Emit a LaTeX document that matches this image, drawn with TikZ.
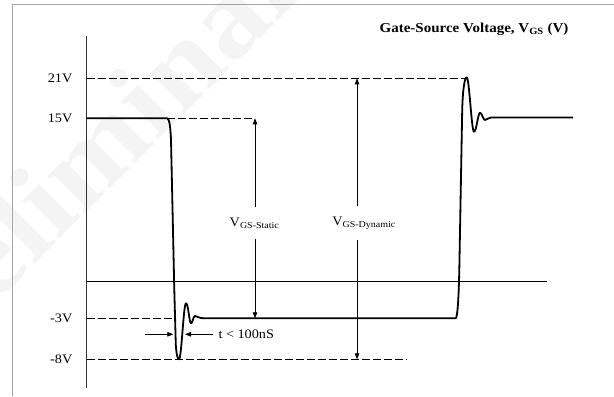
\documentclass[tikz,border=0pt]{standalone}
\usepackage{fontspec}
\setmainfont{Liberation Serif}[FakeStretch=1.1]
\usetikzlibrary{arrows.meta}

\tikzset{
  sig/.style={line width=1.8bp, line join=round},
  lvldash/.style={line width=1.3bp, dash pattern=on 8bp off 3bp},
  dim/.style={line width=0.8bp, -{Triangle[length=6bp,width=4.5bp]}},
  lvl/.style={anchor=east, inner sep=0pt, font=\fontsize{13}{15}\selectfont},
  lab/.style={inner xsep=0pt, inner ysep=11bp, font=\fontsize{13}{15}\selectfont},
}

\begin{document}
\begin{tikzpicture}[x=1bp, y=-1bp]
\useasboundingbox (0,0) rectangle (614,396);

% Watermark
\node[rotate=45, text=gray!9, font=\bfseries\fontsize{115}{115}\selectfont] (wm) at (111,149) {Preliminary};

% Frame
\draw[gray!70, line width=1bp] (12.3,396) -- (12.3,4) -- (614,4);

% Axes
\draw[line width=0.8bp, black!80] (86.7,36) -- (86.7,388);
\draw[line width=1bp] (86.7,281) -- (547,281);

% Levels
\foreach \y/\t/\n in {78.3/21V/a, 118.3/15V/b, 318.3/-3V/c, 359.3/-8V/d}
  \node[lvl] (lv\n) at (72.5,\y) {\t};
\draw[lvldash] (86.7,78.3) -- (466.7,78.3);
\draw[lvldash] (167.3,118.3) -- (255,118.3);
\draw[lvldash] (86.7,318.3) -- (174,318.3);
\draw[lvldash] (86.7,359.3) -- (407,359.3);

% Gate signal
\draw[sig] (86.7,118.3) -- (167.3,118.3) .. controls (169.5,119) and (170.5,128) .. (171,140)
  -- (174.3,290) -- (175.8,345) .. controls (176.6,356) and (177.8,359.3) .. (179,359.3)
  .. controls (181.5,359.3) and (183.5,303.3) .. (186,303.3)
  .. controls (188.3,303.3) and (189.3,323.3) .. (191,323.3)
  .. controls (192.6,323.3) and (193.2,316) .. (195,316)
  .. controls (197,316) and (199,318.3) .. (204,318.3)
  -- (455.7,318.3) .. controls (457.5,317) and (458.6,300) .. (459.3,270)
  -- (462.2,110) .. controls (462.8,88) and (464.8,77.3) .. (466.7,77.3)
  .. controls (469.3,77.3) and (471.5,131.7) .. (474,131.7)
  .. controls (476.5,131.7) and (478,112.7) .. (480,112.7)
  .. controls (482,112.7) and (483,120) .. (485,120)
  .. controls (487,120) and (488,117.5) .. (491,117.5) -- (573,117.5);

% Static swing
\node[lab] (stat) at (254.5,223) {V\textsubscript{GS-Static}};
\coordinate (statT) at (255,118.3);
\coordinate (statB) at (255,318.3);
\draw[dim] (stat.north -| statT) -- (statT);
\draw[dim] (stat.south -| statB) -- (statB);

% Dynamic swing
\node[lab] (dyn) at (364,223) {V\textsubscript{GS-Dynamic}};
\coordinate (dynT) at (357,78.3);
\coordinate (dynB) at (357,359.3);
\draw[dim] (dyn.north -| dynT) -- (dynT);
\draw[dim] (dyn.south -| dynB) -- (dynB);

% Transition time
\node[lab, anchor=west, inner xsep=5bp, inner ysep=0pt] (tlab) at (213.3,334.3) {t < 100nS};
\coordinate (tl) at (145,334.3);
\coordinate (tli) at (173.3,334.3);
\coordinate (tri) at (185,334.3);
\draw[dim] (tl) -- (tli);
\draw[dim] (tlab.west) -- (tri);

% Title
\node[font=\bfseries\fontsize{13.7}{16}\selectfont] (title) at (474,29.5) {Gate-Source Voltage, V\textsubscript{GS} (V)};
\end{tikzpicture}
\end{document}
